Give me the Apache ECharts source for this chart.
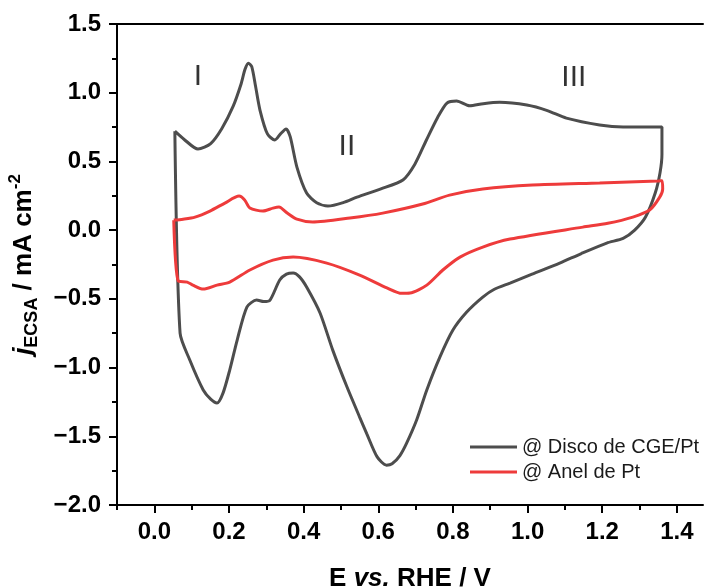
<!DOCTYPE html>
<html>
<head>
<meta charset="utf-8">
<script src="https://cdn.jsdelivr.net/npm/echarts@6/dist/echarts.min.js"></script>
<style>html,body{margin:0;padding:0;background:#fff;}#c{width:704px;height:587px;}</style>
</head>
<body>
<div id="c"></div>
<script>
// ---- data ----
var seriesNames = ['@ Disco de CGE/Pt', '@ Anel de Pt'];
var discoE = [0.055,0.080,0.117,0.151,0.181,0.211,0.232,0.243,0.252,0.261,0.271,0.283,0.303,0.323,0.338,0.353,0.364,0.382,0.408,0.435,0.465,0.506,0.543,0.607,0.666,0.698,0.729,0.759,0.784,0.810,0.845,0.881,0.925,0.998,1.053,1.104,1.193,1.256,1.360,
  1.360,1.355,1.342,1.316,1.287,1.256,1.212,1.144,1.086,1.012,0.953,0.911,0.880,0.837,0.800,0.765,0.730,0.703,0.676,0.658,0.637,0.622,0.597,0.569,0.550,0.516,0.478,0.444,0.408,0.389,0.372,0.354,0.336,0.310,0.293,0.274,0.248,0.222,0.202,0.184,0.168,0.151,0.131,0.095,0.069,0.055];
var discoJ = [0.72,0.66,0.59,0.63,0.74,0.90,1.06,1.17,1.215,1.19,1.05,0.874,0.70,0.656,0.70,0.736,0.68,0.459,0.27,0.20,0.175,0.20,0.24,0.30,0.365,0.48,0.656,0.82,0.925,0.94,0.905,0.92,0.93,0.91,0.87,0.815,0.765,0.75,0.75,
  0.55,0.42,0.27,0.095,0.0,-0.06,-0.094,-0.17,-0.24,-0.32,-0.385,-0.43,-0.487,-0.596,-0.727,-0.924,-1.163,-1.38,-1.55,-1.64,-1.70,-1.71,-1.65,-1.48,-1.36,-1.14,-0.873,-0.603,-0.414,-0.34,-0.312,-0.32,-0.363,-0.509,-0.52,-0.509,-0.56,-0.80,-1.018,-1.186,-1.258,-1.23,-1.163,-0.945,-0.75,0.72];
var anelE = [0.052,0.077,0.109,0.149,0.189,0.227,0.242,0.256,0.291,0.318,0.334,0.356,0.382,0.424,0.524,0.612,0.719,0.791,0.880,1.013,1.193,1.349,1.360,
  1.362,1.354,1.327,1.282,1.215,1.148,0.953,0.880,0.819,0.773,0.730,0.685,0.663,0.623,0.550,0.462,0.372,0.318,0.256,0.202,0.168,0.131,0.103,0.088,0.064,0.052];
var anelJ = [0.073,0.08,0.095,0.139,0.197,0.248,0.22,0.161,0.139,0.16,0.168,0.124,0.08,0.059,0.088,0.124,0.19,0.255,0.299,0.328,0.343,0.357,0.36,
  0.30,0.24,0.146,0.095,0.05,0.022,-0.065,-0.123,-0.196,-0.29,-0.4,-0.458,-0.46,-0.42,-0.327,-0.24,-0.196,-0.218,-0.29,-0.378,-0.4,-0.429,-0.4,-0.378,-0.37,0.073];
var xMajorTicks = [0.0,0.2,0.4,0.6,0.8,1.0,1.2,1.4];
var xMinorTicks = [-0.1,0.1,0.3,0.5,0.7,0.9,1.1,1.3];
var annotations = [{text:'I', E:0.117, J:1.114}, {text:'II', E:0.516, J:0.605}, {text:'III', E:1.124, J:1.107}];

function pairs(a, b) { return a.map(function (v, i) { return [v, b[i]]; }); }
var FONT = '"Liberation Sans", Arial, sans-serif';
var colors = ['#4d4d4d', '#ee3b3b'];

var chart = echarts.init(document.getElementById('c'), null, {renderer: 'canvas'});
var xCommon = {type: 'value', min: -0.1, max: 1.47, splitLine: {show: false}};
var option = {
  animation: false,
  grid: {left: 117, right: 1, top: 24, bottom: 82, outerBoundsMode: 'none', containLabel: false},
  legend: {
    orient: 'vertical', left: 465, top: 432, itemWidth: 47, itemHeight: 3, itemGap: 5,
    icon: 'rect',
    textStyle: {fontFamily: FONT, fontSize: 20, color: '#1a1a1a'},
    data: seriesNames
  },
  xAxis: [
    Object.assign({}, xCommon, {
      position: 'bottom',
      axisLine: {show: true, onZero: false, lineStyle: {color: '#000', width: 2}},
      axisTick: {show: true, length: 8, lineStyle: {color: '#000', width: 2}, customValues: xMajorTicks},
      axisLabel: {show: true, customValues: xMajorTicks, margin: 15, fontFamily: FONT, fontWeight: 'bold', fontSize: 24, color: '#000',
        formatter: function (v) { return v.toFixed(1); }},
      name: 'E {i|vs.} RHE / V', nameLocation: 'middle', nameGap: 61,
      nameTextStyle: {fontFamily: FONT, fontWeight: 'bold', fontSize: 26, color: '#000',
        rich: {i: {fontFamily: FONT, fontWeight: 'bold', fontStyle: 'italic', fontSize: 26, color: '#000'}}}
    }),
    Object.assign({}, xCommon, {
      position: 'bottom',
      axisLine: {show: false, onZero: false},
      axisTick: {show: true, length: 5, lineStyle: {color: '#000', width: 2}, customValues: xMinorTicks},
      axisLabel: {show: false}
    }),
    Object.assign({}, xCommon, {
      position: 'top',
      axisLine: {show: true, onZero: false, lineStyle: {color: '#000', width: 2}},
      axisTick: {show: false}, axisLabel: {show: false}
    })
  ],
  yAxis: {
    type: 'value', min: -2.0, max: 1.5, interval: 0.5,
    splitLine: {show: false},
    axisLine: {show: true, onZero: false, lineStyle: {color: '#000', width: 2}},
    axisTick: {show: true, length: 8, lineStyle: {color: '#000', width: 2}},
    minorTick: {show: true, splitNumber: 2, length: 5, lineStyle: {color: '#000', width: 2}},
    axisLabel: {margin: 16, fontFamily: FONT, fontWeight: 'bold', fontSize: 24, color: '#000',
      formatter: function (v) { return v.toFixed(1).replace('-', '\u2212'); }},
    name: '{j|j}{sub|ECSA}{t| / mA cm}{sup|-2}', nameLocation: 'middle', nameRotate: 90, nameGap: 76,
    nameTextStyle: {
      fontFamily: FONT, fontWeight: 'bold', fontSize: 26, color: '#000',
      rich: {
        j: {fontFamily: FONT, fontWeight: 'bold', fontStyle: 'italic', fontSize: 26, color: '#000', lineHeight: 34, verticalAlign: 'middle'},
        sub: {fontFamily: FONT, fontWeight: 'bold', fontSize: 18, color: '#000', lineHeight: 18, verticalAlign: 'bottom'},
        t: {fontFamily: FONT, fontWeight: 'bold', fontSize: 26, color: '#000', lineHeight: 34, verticalAlign: 'middle'},
        sup: {fontFamily: FONT, fontWeight: 'bold', fontSize: 17, color: '#000', lineHeight: 17, verticalAlign: 'top'}
      }
    }
  },
  series: [
    {
      name: seriesNames[0], type: 'line', xAxisIndex: 0, data: pairs(discoE, discoJ),
      showSymbol: false, smooth: 0.25, color: colors[0],
      lineStyle: {color: colors[0], width: 3}, z: 3
    },
    {
      name: seriesNames[1], type: 'line', xAxisIndex: 0, data: pairs(anelE, anelJ),
      showSymbol: false, smooth: 0.25, color: colors[1],
      lineStyle: {color: colors[1], width: 3}, z: 4
    },
    {
      type: 'scatter', xAxisIndex: 0, symbolSize: 0, silent: true,
      data: annotations.map(function (a) { return {value: [a.E, a.J], label: {show: true, formatter: a.text}}; }),
      label: {show: true, position: 'inside', fontFamily: FONT, fontSize: 30, color: '#000'}
    }
  ]
};
chart.setOption(option);
</script>
</body>
</html>
